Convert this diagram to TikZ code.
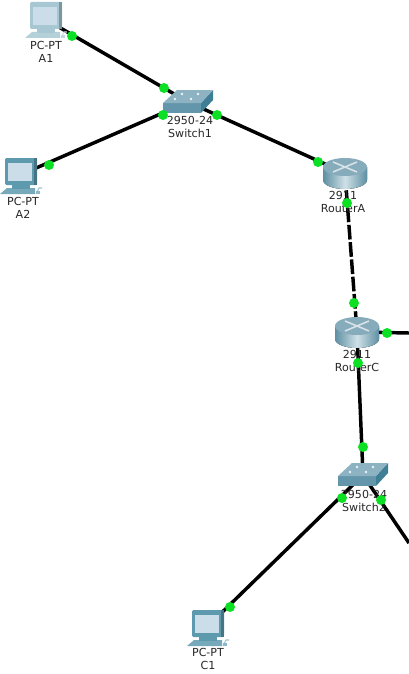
\documentclass[tikz,border=0pt]{standalone}
\usepackage{fontspec}
\setmainfont{DejaVu Sans}
\definecolor{pcblue}{HTML}{5E9AAE}
\definecolor{pcscreen}{HTML}{CBDDE8}
\definecolor{swtop}{HTML}{8DB3C2}
\definecolor{swfront}{HTML}{6496AB}
\definecolor{swside}{HTML}{3F7F96}
\definecolor{rtdark}{HTML}{5E8FA3}
\definecolor{rtlight}{HTML}{CFE0E6}
\definecolor{lampgreen}{HTML}{0BE024}
\tikzset{
  link/.style={line width=2.6pt},
  lanlink/.style={link,dash pattern=on 11pt off 2pt},
  lamp/.style={circle,fill=lampgreen,inner sep=0pt,minimum size=7.5pt},
  devlabel/.style={align=center,text=black!85,inner sep=0pt,
                   font=\fontsize{8.3}{9.75}\selectfont},
}
\tikzset{
  pcpt/.pic={
    \tikzset{/pcpt/.cd,#1}
    \fill[\pcbody!85!white] (-20,19) -- (-13,13) -- (15,13) -- (15,19) -- cycle;
    \fill[\pcbody] (-8,9) rectangle (10,14);
    \fill[\pcbody,rounded corners=1] (-15,-17) rectangle (17,10);
    \fill[\pcbody!75!black] (14,-17) rectangle (17,10);
    \fill[pcscreen] (-12,-12) rectangle (12,6);
    \draw[\pcbody!60!white,line width=.8pt] (16,19) -- (19,13) -- (22,13);
    \fill[\pcbody!70!white] (16,16) rectangle (20,19);
  },
  /pcpt/.search also={/tikz},
  /pcpt/.cd,
  body/.store in=\pcbody, body=pcblue,
}
\tikzset{
  switchpt/.pic={
    \fill[swfront] (-25,1) rectangle (13,11);
    \fill[swside] (13,1) -- (25,-12) -- (25,-2) -- (13,11) -- cycle;
    \fill[swtop] (-25,1) -- (-11,-12) -- (25,-12) -- (13,1) -- cycle;
    \fill[white!85!swtop] (-6,-8) circle (1.3) (10,-8) circle (1.3)
                          (-13,-3) circle (1.3) (3,-3) circle (1.3);
  },
  routerpt/.pic={
    \fill[left color=rtdark,right color=rtdark,middle color=rtlight]
      (-22,-6) -- (-22,7) arc[start angle=180,end angle=0,
      x radius=22,y radius=9] -- (22,-6) -- cycle;
    \fill[rtdark!75!white] (0,-6) ellipse (22 and 9);
    \draw[white!75!rtdark,line width=1.2pt]
      (-12,-1) -- (12,-11) (-12,-11) -- (12,-1);
  },
}

\begin{document}
\begin{tikzpicture}[x=.75pt,y=-.75pt]
  \useasboundingbox (0,0) rectangle (409,674);
  \coordinate (A1) at (45,19);
  \coordinate (A2) at (20,175);
  \coordinate (C1) at (207,627);
  \coordinate (Switch1) at (188,102);
  \coordinate (Switch2) at (363,475);
  \coordinate (RouterA) at (345,173);
  \coordinate (RouterC) at (357,332);
  \coordinate (toright) at (409,333);
  \coordinate (tobottom) at (409,543);
  % links first, the devices sit on them
  \draw[link] (A1) -- (Switch1);
  \draw[link] (A2) -- (Switch1);
  \draw[link] (Switch1) -- (RouterA);
  \draw[lanlink] (RouterA) -- (RouterC);
  \draw[link] (RouterC) -- (toright);
  \draw[link] (RouterC) -- (Switch2);
  \draw[link] (Switch2) -- (C1);
  \draw[link] (Switch2) -- (tobottom);
  \pic at (A1) {pcpt={body=pcblue!55!white}};
  \pic at (A2) {pcpt};
  \pic at (C1) {pcpt};
  \pic at (Switch1) {switchpt};
  \pic at (Switch2) {switchpt};
  \pic at (RouterA) {routerpt};
  \pic at (RouterC) {routerpt};
  \node[devlabel] (labelA1) at (46,51.5) {PC-PT\\A1};
  \node[devlabel] (labelA2) at (23,207.5) {PC-PT\\A2};
  \node[devlabel] (labelC1) at (208,658.5) {PC-PT\\C1};
  \node[devlabel] (labelS1) at (190,126.5) {2950-24\\Switch1};
  \node[devlabel] (labelS2) at (364,500.5) {2950-24\\Switch2};
  \node[devlabel] (labelRA) at (343,201.5) {2911\\RouterA};
  \node[devlabel] (labelRC) at (357,360.5) {2911\\RouterC};
  \node[lamp] (lampA1) at (72,36) {};
  \node[lamp] (lampS1a) at (164,88) {};
  \node[lamp] (lampA2) at (49,165) {};
  \node[lamp] (lampS1b) at (163,115) {};
  \node[lamp] (lampS1c) at (217,115) {};
  \node[lamp] (lampRAa) at (318,162) {};
  \node[lamp] (lampRAb) at (347,203) {};
  \node[lamp] (lampRCa) at (354,303) {};
  \node[lamp] (lampRCb) at (387,333) {};
  \node[lamp] (lampRCc) at (358,363) {};
  \node[lamp] (lampS2a) at (363,447) {};
  \node[lamp] (lampS2b) at (342,498) {};
  \node[lamp] (lampS2c) at (381,500) {};
  \node[lamp] (lampC1) at (230,607) {};
\end{tikzpicture}
\end{document}
